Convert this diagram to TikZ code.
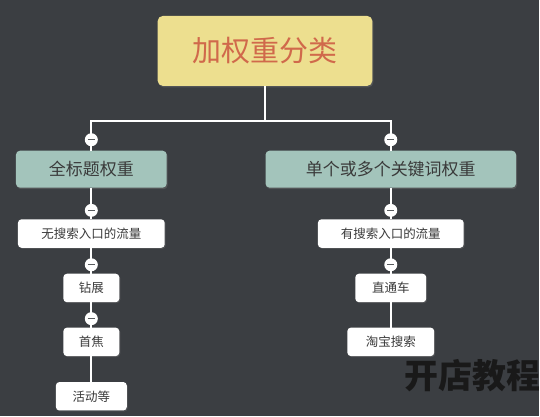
\documentclass[tikz,border=0pt]{standalone}
\usepackage{fontspec}
\setmainfont{Noto Sans CJK SC}
\usepackage{xcolor}
\usetikzlibrary{calc,shadows}

\definecolor{bg}{HTML}{3B3E42}
\definecolor{rootfill}{HTML}{EDDF8F}
\definecolor{roottext}{HTML}{D0694B}
\definecolor{levelfill}{HTML}{A3C4BB}
\definecolor{boxtext}{HTML}{3A3A3A}

\begin{document}
\begin{tikzpicture}[x=1pt,y=-1pt]
    \tikzstyle{every node}=[inner sep=0pt, outer sep=0pt]
    \tikzstyle{rootbox}=[rectangle, rounded corners=5pt, fill=rootfill, text=roottext,
        minimum width=215pt, minimum height=70pt, font=\fontsize{29}{32}\selectfont,
        drop shadow={opacity=0.35, shadow xshift=1pt, shadow yshift=-1.5pt}]
    \tikzstyle{levelbox}=[rectangle, rounded corners=4pt, fill=levelfill, text=boxtext,
        minimum height=37pt, font=\fontsize{17}{20}\selectfont,
        drop shadow={opacity=0.35, shadow xshift=1pt, shadow yshift=-1.5pt}]
    \tikzstyle{leafbox}=[rectangle, rounded corners=3.5pt, fill=white, text=boxtext,
        minimum height=28.5pt, font=\fontsize{12.5}{15}\selectfont,
        drop shadow={opacity=0.3, shadow xshift=1pt, shadow yshift=-1pt}]
    \tikzstyle{link}=[draw=white, line width=2pt]
    \tikzstyle{toggle}=[circle, fill=white, minimum size=13pt,
        path picture={\draw[draw=bg!85, line width=1.3pt]
            ([xshift=3pt]path picture bounding box.west) --
            ([xshift=-3pt]path picture bounding box.east);}]

    \fill[bg] (0,0) rectangle (540,417);

    \node[rootbox] (R) at (265.5,51) {加权重分类}; % Top box

    % Left branch
    \node[levelbox, minimum width=151pt] (A) at (91.5,169.5) {全标题权重};
    \node[leafbox, minimum width=147pt] (A1) at (91.5,234) {无搜索入口的流量};
    \node[leafbox, minimum width=56pt] (A2) at (91.5,288.5) {钻展};
    \node[leafbox, minimum width=56pt] (A3) at (91.5,342.5) {首焦};
    \node[leafbox, minimum width=71pt] (A4) at (91.5,397) {活动等};

    % Right branch
    \node[levelbox, minimum width=251pt] (B) at (391.5,169.5) {单个或多个关键词权重};
    \node[leafbox, minimum width=146pt] (B1) at (391.5,234) {有搜索入口的流量};
    \node[leafbox, minimum width=71pt] (B2) at (391.5,288.5) {直通车};
    \node[leafbox, minimum width=87pt] (B3) at (391.5,342.5) {淘宝搜索};

    % Edges
    \coordinate (J) at (265.5,121);
    \draw[link] (R.south) -- (J);
    \draw[link] (A.north) |- (J) -| (B.north);
    \draw[link] (A) -- (A1);
    \draw[link] (A1) -- (A2);
    \draw[link] (A2) -- (A3);
    \draw[link] (A3) -- (A4);
    \draw[link] (B) -- (B1);
    \draw[link] (B1) -- (B2);
    \draw[link] (B2) -- (B3);

    % Collapse buttons
    \node[toggle] (tA) at ($(A.north)+(0,-11)$) {};
    \node[toggle] (tB) at ($(B.north)+(0,-11)$) {};
    \node[toggle] (tA1) at ($(A1.north)+(0,-9)$) {};
    \node[toggle] (tB1) at ($(B1.north)+(0,-9)$) {};
    \node[toggle] (tA2) at ($(A2.north)+(0,-9)$) {};
    \node[toggle] (tB2) at ($(B2.north)+(0,-9)$) {};
    \node[toggle] (tA3) at ($(A3.north)+(0,-9)$) {};

    % Watermark
    \node[text=black!90, font=\fontsize{34}{36}\selectfont\bfseries, anchor=west] (W) at (405,376) {开店教程};
\end{tikzpicture}
\end{document}
